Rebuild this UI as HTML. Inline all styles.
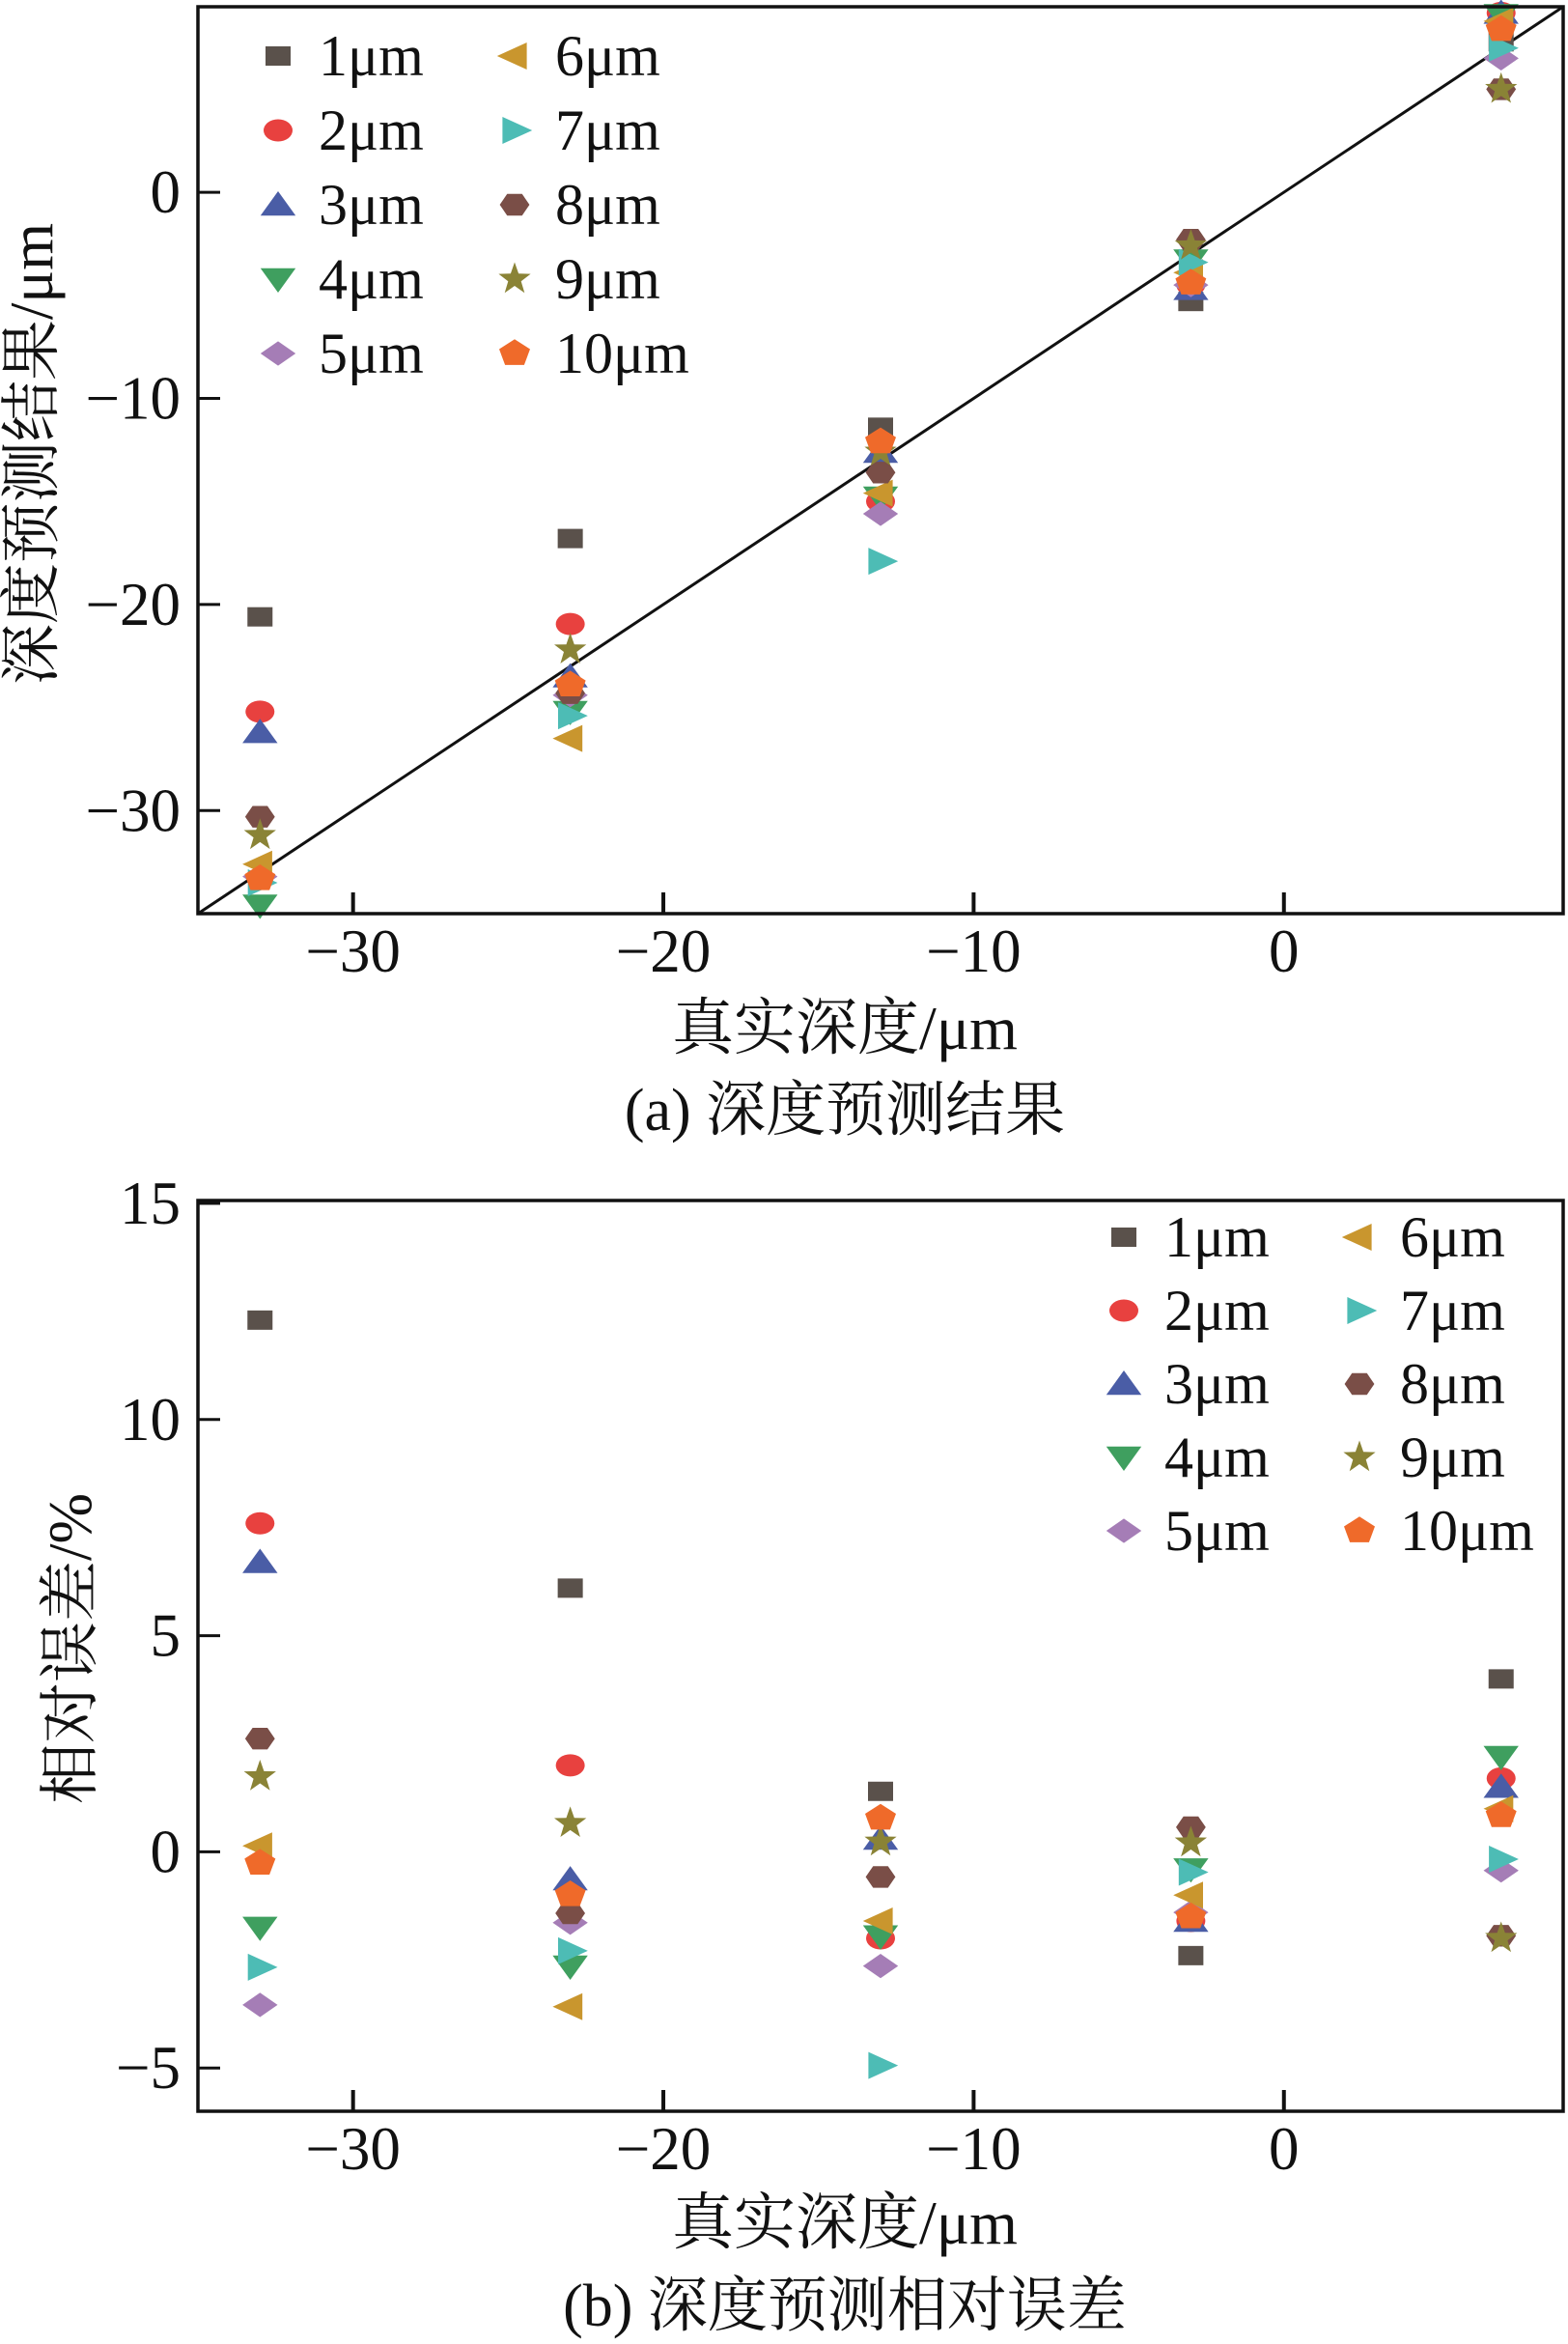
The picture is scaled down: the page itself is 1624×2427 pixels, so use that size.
<!DOCTYPE html>
<html><head><meta charset="utf-8">
<style>
html,body{margin:0;padding:0;background:#fff;}
svg{display:block;}
text{font-family:"Liberation Serif","Noto Serif CJK SC",serif;fill:#111;}
</style></head>
<body>
<svg id="fig" width="1624" height="2427" viewBox="0 0 1624 2427" xmlns="http://www.w3.org/2000/svg">
  <g id="chartA"></g>
  <g id="chartB"></g>
</svg>
<script>
const xDepths = [-33, -23, -13, -3, 7];
const seriesNames = ["1μm","2μm","3μm","4μm","5μm","6μm","7μm","8μm","9μm","10μm"];
const xTicks = [-30, -20, -10, 0];
const yTicksA = [0, -10, -20, -30];
const yTicksB = [15, 10, 5, 0, -5];
// (a) predicted depth per series
const predA1 = [-20.6, -16.8, -11.4, -5.3, 7.3];
const predA2 = [-25.2, -20.95, -15.0, -4.5, 8.7];
const predA3 = [-26.2, -23.5, -12.6, -4.7, 8.7];
const predA4 = [-34.6, -25.2, -14.8, -3.3, 8.6];
const predA5 = [-33.2, -24.4, -15.6, -4.5, 6.5];
const predA6 = [-32.6, -26.5, -14.6, -3.9, 8.3];
const predA7 = [-33.5, -25.4, -17.9, -3.4, 7.0];
const predA8 = [-30.3, -24.3, -13.6, -2.3, 5.0];
const predA9 = [-31.2, -22.2, -12.6, -2.6, 5.0];
const predA10 = [-33.3, -23.9, -12.1, -4.4, 7.9];
// (b) relative error (%) per series
const errB1 = [12.3, 6.1, 1.4, -2.4, 4.0];
const errB2 = [7.6, 2.0, -2.0, -1.6, 1.7];
const errB3 = [6.7, -0.64, 0.3, -1.6, 1.5];
const errB4 = [-1.75, -2.65, -1.95, -0.4, 2.2];
const errB5 = [-3.54, -1.64, -2.64, -1.4, -0.43];
const errB6 = [0.14, -3.58, -1.6, -1.0, 1.0];
const errB7 = [-2.67, -2.29, -4.94, -0.47, -0.17];
const errB8 = [2.62, -1.42, -0.58, 0.57, -1.94];
const errB9 = [1.74, 0.66, 0.23, 0.21, -2.0];
const errB10 = [-0.26, -0.99, 0.78, -1.5, 0.84];

const predA = [predA1,predA2,predA3,predA4,predA5,predA6,predA7,predA8,predA9,predA10];
const errB = [errB1,errB2,errB3,errB4,errB5,errB6,errB7,errB8,errB9,errB10];
const colors = ["#5a514b","#e8413f","#4a5da6","#3f9f5f","#a57db6","#c9962e","#4dbcb5","#7a4e47","#8a8336","#ef6a2a"];
const shapes = ["square","circle","up","down","diamond","left","right","hex","star","pent"];

const NS = "http://www.w3.org/2000/svg";
function mk(tag, attrs, parent){
  const e = document.createElementNS(NS, tag);
  for (const k in attrs) e.setAttribute(k, attrs[k]);
  if (parent) parent.appendChild(e);
  return e;
}
function markerPath(shape, cx, cy){
  const s = 14;
  let pts;
  switch(shape){
    case "up": pts=[[0,-s],[s*1.3,s*0.8],[-s*1.3,s*0.8]]; break;
    case "down": pts=[[0,s],[s*1.3,-s*0.8],[-s*1.3,-s*0.8]]; break;
    case "left": pts=[[-s*1.3,0],[s*0.9,-s],[s*0.9,s]]; break;
    case "right": pts=[[s*1.3,0],[-s*0.9,-s],[-s*0.9,s]]; break;
    case "diamond": pts=[[0,-s*0.9],[s*1.3,0],[0,s*0.9],[-s*1.3,0]]; break;
    case "hex": pts=[[-s*1.1,0],[-s*0.55,-s*0.8],[s*0.55,-s*0.8],[s*1.1,0],[s*0.55,s*0.8],[-s*0.55,s*0.8]]; break;
    case "pent": pts=[]; for(let i=0;i<5;i++){const a=-Math.PI/2+i*2*Math.PI/5; pts.push([Math.cos(a)*s*1.2, Math.sin(a)*s*1.05]);} break;
    case "star": pts=[]; for(let i=0;i<10;i++){const a=-Math.PI/2+i*Math.PI/5; const r=i%2?s*0.5:s*1.25; pts.push([Math.cos(a)*r, Math.sin(a)*r]);} break;
  }
  return pts.map(p=>(cx+p[0]).toFixed(1)+","+(cy+p[1]).toFixed(1)).join(" ");
}
function drawMarker(g, i, cx, cy){
  const sh = shapes[i], c = colors[i];
  let el;
  if (sh==="square") el = mk("rect",{x:cx-13,y:cy-10,width:26,height:20,fill:c},g);
  else if (sh==="circle") el = mk("ellipse",{cx:cx,cy:cy,rx:15,ry:11.5,fill:c},g);
  else el = mk("polygon",{points:markerPath(sh,cx,cy),fill:c},g);
  return el;
}

function buildChart(g, cfg){
  const {L,R,T,B,FT,xmin,xmax,ymin,ymax,yTicks,series,legX1,legX2,legY0,legDy,ytitle,ytitleX,ytitleY,xtitleY,caption,captionY} = cfg;
  const sx = v => L + (v - xmin)/(xmax - xmin)*(R - L);
  const sy = v => B - (v - ymin)/(ymax - ymin)*(B - T);
  if (cfg.diag){
    const ln = mk("line",{x1:sx(xmin),y1:sy(xmin),x2:sx(xmax),y2:sy(xmax),stroke:"#111","stroke-width":3},g);
    
    
  }
  for (let i=0;i<10;i++){
    const sg = mk("g",{},g);
    
    
    series[i].forEach((v,j)=>{
      const m = drawMarker(sg, i, sx(xDepths[j]), sy(v));
      
      
    });
  }
  const fr = mk("rect",{x:L,y:FT,width:R-L,height:B-FT,fill:"none",stroke:"#111","stroke-width":3.5},g);
  
  
  xTicks.forEach(v=>{
    const x = sx(v);
    const t = mk("line",{x1:x,y1:B,x2:x,y2:B-22,stroke:"#111","stroke-width":4},g);
    
    
    const lb = mk("text",{x:x,y:B+60,"text-anchor":"middle","font-size":63},g);
    lb.textContent = v<0 ? "−"+Math.abs(v) : String(v);
    
    
  });
  yTicks.forEach(v=>{
    const y = sy(v);
    const t = mk("line",{x1:L,y1:y,x2:L+23,y2:y,stroke:"#111","stroke-width":3},g);
    
    
    const lb = mk("text",{x:L-18,y:y+21,"text-anchor":"end","font-size":63},g);
    lb.textContent = v<0 ? "−"+Math.abs(v) : String(v);
    
    
  });
  const lg = mk("g",{},g);
  
  
  for (let i=0;i<10;i++){
    const col = i<5?0:1, row = i%5;
    const mx = col? legX2 : legX1;
    const my = legY0 + row*legDy;
    const eg = mk("g",{},lg);
    
    
    drawMarker(eg, i, mx, my);
    const tx = mk("text",{x:mx+42,y:my+20,"font-size":60},eg);
    tx.textContent = seriesNames[i];
  }
  const yt = mk("text",{x:ytitleX,y:ytitleY,"text-anchor":"middle","font-size":63,transform:`rotate(-90 ${ytitleX} ${ytitleY})`},g);
  yt.textContent = ytitle;
  
  
  const xt = mk("text",{x:875,y:xtitleY,"text-anchor":"middle","font-size":64},g);
  xt.textContent = "真实深度/μm";
  
  
  const cp = mk("text",{x:875,y:captionY,"text-anchor":"middle","font-size":62},g);
  cp.textContent = caption;
  
  
}

buildChart(document.getElementById("chartA"), {
  L:205,R:1619,T:7,FT:7,B:946,xmin:-35,xmax:9,ymin:-35,ymax:9,yTicks:yTicksA,series:predA,diag:true,
  legX1:288,legX2:533,legY0:58,legDy:77,ytitle:"深度预测结果/μm",ytitleX:54,ytitleY:470,xtitleY:1086,
  caption:"(a) 深度预测结果",captionY:1170
});
buildChart(document.getElementById("chartB"), {
  L:205,R:1619,T:1246,FT:1243,B:2186,xmin:-35,xmax:9,ymin:-6,ymax:15,yTicks:yTicksB,series:errB,diag:false,
  legX1:1164,legX2:1408,legY0:1281,legDy:76,ytitle:"相对误差/%",ytitleX:94,ytitleY:1707,xtitleY:2323,
  caption:"(b) 深度预测相对误差",captionY:2408
});
</script>
</body></html>
